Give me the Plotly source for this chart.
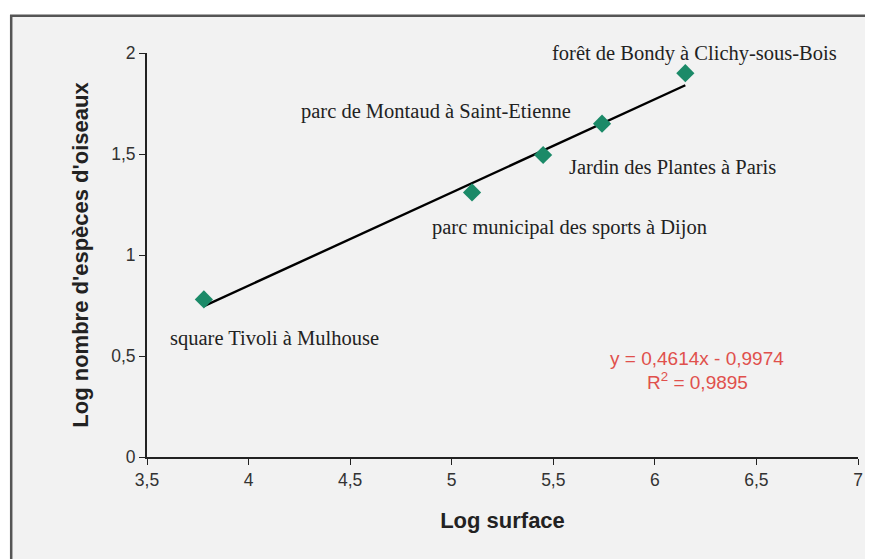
import plotly.graph_objects as go

# Data
sites = [
    "square Tivoli à Mulhouse",
    "parc municipal des sports à Dijon",
    "Jardin des Plantes à Paris",
    "parc de Montaud à Saint-Etienne",
    "forêt de Bondy à Clichy-sous-Bois",
]
log_surface = [3.78, 5.10, 5.45, 5.74, 6.15]
log_species = [0.78, 1.31, 1.495, 1.65, 1.90]

slope = 0.4614
intercept = -0.9974
r2 = 0.9895

x_ticks = [3.5, 4, 4.5, 5, 5.5, 6, 6.5, 7]
x_tick_labels = ["3,5", "4", "4,5", "5", "5,5", "6", "6,5", "7"]
y_ticks = [0, 0.5, 1, 1.5, 2]
y_tick_labels = ["0", "0,5", "1", "1,5", "2"]

# label placement (pixel offsets relative to each point; +y is up)
label_shift = [(71, -39), (97, -35), (129, -12), (-166, 12), (9, 20)]

x_fit = [min(log_surface), max(log_surface)]
y_fit = [slope * v + intercept for v in x_fit]

fig = go.Figure()
fig.add_trace(go.Scatter(x=x_fit, y=y_fit, mode="lines",
                         line=dict(color="black", width=2.4),
                         showlegend=False, hoverinfo="skip"))
fig.add_trace(go.Scatter(x=log_surface, y=log_species, mode="markers",
                         marker=dict(symbol="diamond", size=14, color="#1b8a68"),
                         showlegend=False))

serif = "Liberation Serif, Times New Roman, serif"
sans = "Liberation Sans, Arial, sans-serif"

for name, xv, yv, (dx, dy) in zip(sites, log_surface, log_species, label_shift):
    fig.add_annotation(x=xv, y=yv, text=name, showarrow=False,
                       xshift=dx, yshift=dy, xanchor="center", yanchor="middle",
                       font=dict(family=serif, size=20.5, color="#222222"))

fig.add_annotation(xref="paper", yref="paper", x=0.774, y=0.245,
                   xanchor="center", yanchor="middle",
                   text=f"y = {str(slope).replace('.', ',')}x - {str(-intercept).replace('.', ',')}",
                   showarrow=False,
                   font=dict(family=sans, size=19, color="#e0504c"))
fig.add_annotation(xref="paper", yref="paper", x=0.774, y=0.188,
                   xanchor="center", yanchor="middle",
                   text=f"R<sup>2</sup> = {str(r2).replace('.', ',')}", showarrow=False,
                   font=dict(family=sans, size=19, color="#e0504c"))

# outer chart frame
fig.add_shape(type="rect", xref="paper", yref="paper",
              x0=-0.191, x1=1.03, y0=-0.27, y1=1.092,
              fillcolor="#f2f2f2", line=dict(color="#555555", width=2.5),
              layer="below")

fig.update_layout(
    width=865, height=551,
    margin=dict(l=139, r=10, t=45, b=102),
    paper_bgcolor="white",
    plot_bgcolor="#f2f2f2",
    font=dict(family=sans, size=17.5, color="#333333"),
)
fig.update_xaxes(range=[3.5, 7], tickvals=x_ticks, ticktext=x_tick_labels,
                 showgrid=False, zeroline=False, showline=True,
                 linecolor="#222222", linewidth=2, ticks="outside",
                 ticklen=6, tickcolor="#222222",
                 title=dict(text="<b>Log surface</b>", standoff=24,
                            font=dict(family=sans, size=22, color="#222222")))
fig.update_yaxes(range=[0, 2], tickvals=y_ticks, ticktext=y_tick_labels,
                 showgrid=False, zeroline=False, showline=True,
                 linecolor="#222222", linewidth=2, ticks="outside",
                 ticklen=6, tickcolor="#222222",
                 title=dict(text="<b>Log nombre d'espèces d'oiseaux</b>", standoff=16,
                            font=dict(family=sans, size=22, color="#222222")))

fig.write_html("out.html")
